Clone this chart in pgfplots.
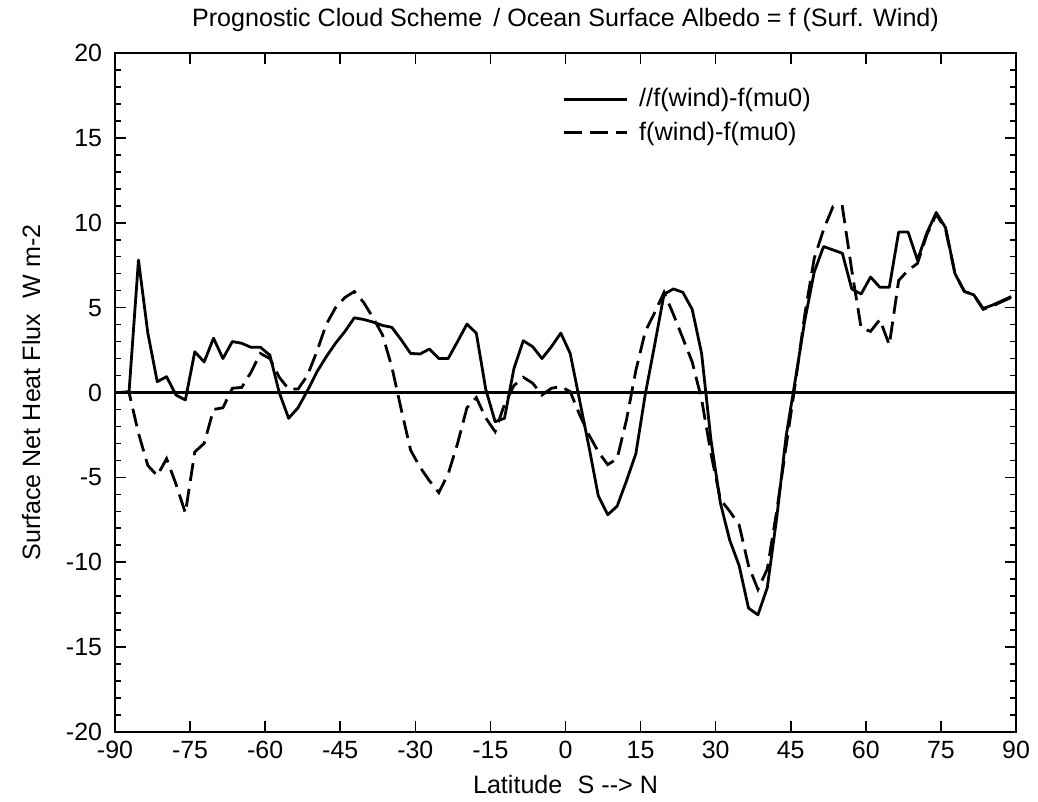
\documentclass[border=0pt]{standalone}
\usepackage{pgfplots}
\pgfplotsset{compat=1.18}
\usepackage{pgfplotstable}
\usepackage{fontspec}
\setmainfont{Liberation Sans}

% Zonal-mean surface net heat flux differences (W m-2) on the T63 Gaussian latitudes
\pgfplotstableread{
lat     solid   dashed
-89.06   0.00    0.00
-87.19   0.05    0.00
-85.31   7.80   -2.40
-83.44   3.50   -4.30
-81.56   0.64   -4.90
-79.69   0.93   -3.90
-77.81  -0.15   -5.40
-75.94  -0.44   -7.10
-74.06   2.40   -3.50
-72.19   1.80   -3.00
-70.31   3.20   -1.00
-68.44   2.00   -0.90
-66.56   3.00    0.25
-64.69   2.90    0.30
-62.81   2.66    1.20
-60.94   2.66    2.30
-59.06   2.20    2.00
-57.19   0.00    0.90
-55.31  -1.52    0.20
-53.44  -0.90    0.20
-51.56   0.10    1.00
-49.69   1.20    2.40
-47.81   2.10    4.00
-45.94   2.90    5.00
-44.06   3.60    5.60
-42.19   4.40    5.95
-40.31   4.30    5.30
-38.44   4.15    4.40
-36.56   3.95    3.40
-34.69   3.84    1.50
-32.81   3.10   -1.00
-30.94   2.30   -3.40
-29.06   2.27   -4.40
-27.19   2.56   -5.20
-25.31   2.00   -5.90
-23.44   2.00   -4.80
-21.56   3.00   -3.00
-19.69   4.03   -0.90
-17.81   3.49   -0.30
-15.94   0.20   -1.50
-14.06  -1.72   -2.30
-12.19  -1.52   -0.70
-10.31   1.40    0.40
 -8.44   3.05    0.90
 -6.56   2.70    0.55
 -4.69   2.00   -0.15
 -2.81   2.70    0.25
 -0.94   3.50    0.35
  0.94   2.30    0.05
  2.81  -0.45   -1.30
  4.69  -3.20   -2.50
  6.56  -6.10   -3.50
  8.44  -7.20   -4.25
 10.31  -6.70   -3.90
 12.19  -5.20   -1.60
 14.06  -3.60    1.30
 15.94  -0.10    3.60
 17.81   2.80    4.70
 19.69   5.80    5.90
 21.56   6.10    4.60
 23.44   5.90    3.20
 25.31   4.90    1.80
 27.19   2.30   -0.40
 29.06  -2.80   -3.60
 30.94  -6.50   -6.30
 32.81  -8.70   -7.00
 34.69 -10.20   -7.80
 36.56 -12.70  -10.20
 38.44 -13.10  -11.60
 40.31 -11.50  -10.40
 42.19  -7.40   -7.00
 44.06  -2.60   -3.20
 45.94   0.80    0.60
 47.81   4.25    4.60
 49.69   7.10    7.90
 51.56   8.60    9.60
 53.44   8.40   10.95
 55.31   8.20   10.95
 57.19   6.10    7.20
 59.06   5.80    3.80
 60.94   6.80    3.60
 62.81   6.20    4.30
 64.69   6.20    2.80
 66.56   9.45    6.60
 68.44   9.45    7.20
 70.31   7.80    7.60
 72.19   9.40    9.30
 74.06  10.60   10.50
 75.94   9.70    9.60
 77.81   7.00    7.00
 79.69   5.95    5.95
 81.56   5.75    5.75
 83.44   4.95    4.90
 85.31   5.15    5.10
 87.19   5.40    5.35
 89.06   5.65    5.60
}\fluxdata

\begin{document}
\begin{tikzpicture}
\begin{axis}[
  name=ax,
  scale only axis,
  width=450.5bp, height=339.5bp,
  xmin=-90, xmax=90, ymin=-20, ymax=20,
  xtick={-90,-75,...,90},
  ytick={-20,-15,...,20},
  minor y tick num=4,
  tick align=inside,
  major tick length=5.5bp,
  minor tick length=2.8bp,
  every tick/.style={black, line width=0.8bp},
  axis line style={line width=1bp},
  tick label style={font=\fontsize{12.5}{14}\selectfont},
  /pgf/number format/assume math mode=true,
  xticklabel style={yshift=-1bp},
  yticklabel style={xshift=-3bp},
  title={Prognostic Cloud Scheme\, / Ocean Surface Albedo = f (Surf. Wind)},
  title style={font=\fontsize{12.6}{14}\selectfont, yshift=1bp},
  xlabel={Latitude\,\, S -{}-> N},
  ylabel={Surface Net Heat Flux\,\, W m-2},
  label style={font=\fontsize{12.6}{14}\selectfont},
  xlabel style={yshift=-1.5bp},
  ylabel style={yshift=6bp},
  legend style={draw=none, fill=none, font=\fontsize{12.7}{15}\selectfont,
    at={(axis description cs:0.4895,0.96)}, anchor=north west,
    row sep=2bp},
  legend cell align=left,
  % line sample followed by a small gap before the entry text
  legend image code/.code={\draw[#1] (0bp,0bp) -- (31.5bp,0bp); \path (35bp,0bp);},
  clip=true,
]
\addplot[black, line width=1.4bp, forget plot] coordinates {(-90,0) (90,0)};
\addplot[black, line width=1.4bp, line join=round] table[x=lat, y=solid] {\fluxdata};
\addlegendentry{//f(wind)-f(mu0)}
\addplot[black, line width=1.4bp, dash pattern=on 9bp off 4bp] table[x=lat, y=dashed] {\fluxdata};
\addlegendentry{f(wind)-f(mu0)}
\end{axis}
\pgfresetboundingbox
\path[use as bounding box] ([shift={(-57.5bp,-35bp)}]ax.south west) rectangle ([shift={(11bp,26.5bp)}]ax.north east);
\end{tikzpicture}
\end{document}
